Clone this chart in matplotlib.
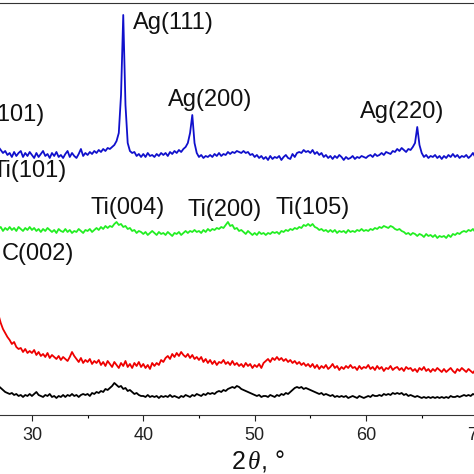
import numpy as np
import matplotlib
matplotlib.use("Agg")
import matplotlib.pyplot as plt
from matplotlib.ticker import MultipleLocator

plt.rcParams['font.family'] = ['Liberation Sans', 'DejaVu Sans']
plt.rcParams['mathtext.fontset'] = 'custom'
plt.rcParams['mathtext.it'] = 'Liberation Serif:italic'
plt.rcParams['mathtext.rm'] = 'Liberation Sans'

# sampling of 2-theta: start and step (degrees)
theta_start = 26.0
theta_step = 0.2

# intensities (a.u., offset curves), one row per degree, 5 samples each
blue = [
    [286, 281, 277, 273, 270], [268, 265, 262, 264, 260], [262, 258, 263, 259, 262],
    [264, 258, 262, 259, 263], [260, 257, 262, 258, 261], [264, 259, 261, 257, 262],
    [259, 263, 258, 260, 257], [261, 264, 258, 262, 259], [257, 261, 266, 259, 262],
    [260, 263, 261, 264, 262], [265, 263, 266, 264, 267], [266, 268, 270, 274, 282],
    [320, 400, 310, 272, 264], [262, 263, 259, 261, 258], [261, 258, 262, 259, 260],
    [258, 261, 259, 262, 260], [262, 259, 263, 261, 264], [262, 265, 263, 266, 268],
    [272, 282, 300, 272, 262], [258, 260, 257, 259, 258], [260, 258, 261, 259, 262],
    [259, 261, 260, 263, 261], [263, 262, 264, 263, 262], [264, 262, 263, 260, 261],
    [258, 260, 257, 259, 256], [258, 255, 259, 256, 258], [257, 259, 255, 258, 260],
    [257, 256, 261, 258, 262], [263, 262, 265, 263, 264], [262, 265, 261, 263, 260],
    [262, 258, 260, 257, 259], [256, 259, 257, 260, 258], [255, 258, 256, 257, 259],
    [256, 258, 257, 259, 258], [257, 259, 260, 258, 261], [259, 260, 262, 260, 263],
    [262, 261, 264, 263, 266], [264, 267, 265, 263, 266], [265, 268, 272, 288, 270],
    [262, 258, 260, 257, 259], [258, 260, 257, 259, 256], [259, 257, 260, 258, 261],
    [258, 260, 257, 259, 258], [260, 257, 259, 262, 258], [259, 257, 260, 258, 259],
]
green = [
    [188, 186, 189, 185, 187], [186, 188, 184, 187, 185], [188, 185, 187, 184, 188],
    [186, 184, 187, 185, 188], [185, 187, 184, 186, 183], [186, 184, 187, 185, 183],
    [185, 182, 186, 184, 183], [186, 183, 185, 182, 184], [183, 186, 184, 182, 185],
    [184, 186, 183, 185, 187], [185, 188, 186, 189, 187], [189, 188, 191, 193, 190],
    [191, 188, 189, 186, 187], [184, 185, 182, 184, 183], [181, 183, 180, 182, 184],
    [182, 180, 183, 181, 182], [180, 183, 181, 179, 182], [181, 183, 180, 182, 184],
    [182, 184, 183, 185, 183], [184, 182, 185, 183, 186], [184, 186, 185, 187, 186],
    [188, 187, 190, 193, 189], [190, 186, 187, 184, 185], [183, 181, 184, 182, 180],
    [182, 180, 183, 181, 182], [180, 182, 181, 183, 182], [183, 181, 184, 183, 185],
    [184, 186, 185, 187, 186], [188, 187, 190, 189, 191], [189, 191, 188, 187, 185],
    [186, 184, 185, 183, 185], [183, 185, 182, 184, 183], [184, 182, 185, 183, 184],
    [183, 185, 184, 186, 184], [185, 184, 186, 185, 187], [186, 188, 187, 189, 188],
    [187, 189, 188, 186, 185], [186, 184, 183, 181, 182], [180, 182, 181, 179, 181],
    [180, 178, 181, 179, 180], [178, 180, 177, 179, 178], [179, 177, 180, 178, 181],
    [180, 182, 181, 183, 184], [183, 185, 184, 186, 183], [184, 182, 185, 183, 184],
]
red = [
    [138, 130, 122, 115, 108], [100, 92, 86, 82, 78], [75, 71, 73, 68, 66],
    [67, 63, 66, 62, 64], [62, 65, 60, 63, 59], [61, 58, 62, 57, 60],
    [58, 56, 59, 55, 58], [56, 54, 58, 63, 59], [56, 53, 57, 52, 55],
    [53, 56, 51, 54, 52], [55, 50, 53, 49, 54], [51, 48, 53, 50, 47],
    [52, 49, 54, 48, 51], [47, 52, 49, 53, 48], [51, 47, 50, 46, 52],
    [49, 52, 50, 55, 53], [57, 59, 56, 61, 58], [62, 59, 63, 60, 58],
    [61, 57, 60, 56, 58], [55, 58, 53, 56, 52], [55, 51, 54, 50, 53],
    [52, 55, 51, 53, 50], [54, 50, 52, 49, 51], [48, 52, 49, 51, 47],
    [50, 48, 51, 47, 52], [54, 56, 53, 57, 55], [58, 55, 57, 54, 56],
    [53, 55, 52, 54, 51], [53, 50, 52, 49, 51], [48, 51, 47, 50, 46],
    [49, 47, 50, 46, 48], [51, 47, 49, 45, 48], [46, 49, 47, 50, 47],
    [48, 45, 49, 46, 48], [47, 50, 46, 48, 45], [49, 46, 48, 44, 47],
    [46, 49, 45, 47, 48], [45, 47, 44, 48, 46], [47, 44, 46, 43, 47],
    [45, 48, 44, 46, 43], [46, 44, 47, 45, 43], [46, 43, 45, 47, 44],
    [42, 46, 44, 47, 45], [43, 46, 44, 42, 45], [44, 42, 45, 43, 44],
]
black = [
    [40, 37, 35, 33, 31], [29, 27, 25, 23, 22], [21, 22, 20, 21, 19],
    [20, 18, 20, 19, 21], [19, 21, 23, 20, 19], [18, 20, 19, 21, 18],
    [19, 17, 19, 18, 20], [18, 20, 19, 21, 19], [20, 18, 20, 21, 20],
    [21, 19, 22, 21, 23], [22, 24, 23, 26, 25], [27, 29, 32, 30, 28],
    [29, 26, 27, 24, 25], [23, 21, 22, 20, 19], [19, 18, 20, 18, 19],
    [18, 19, 17, 19, 18], [19, 18, 20, 18, 19], [18, 17, 19, 18, 20],
    [19, 18, 20, 19, 21], [20, 19, 21, 20, 22], [21, 22, 21, 23, 24],
    [23, 25, 24, 26, 27], [28, 27, 29, 28, 26], [25, 24, 23, 22, 21],
    [20, 19, 20, 18, 19], [19, 18, 20, 19, 18], [20, 19, 21, 20, 22],
    [21, 23, 25, 27, 28], [27, 28, 26, 27, 26], [25, 24, 23, 22, 21],
    [22, 20, 21, 20, 19], [20, 18, 19, 18, 19], [18, 19, 17, 18, 19],
    [18, 17, 19, 18, 17], [18, 19, 18, 20, 19], [19, 20, 19, 21, 20],
    [21, 20, 22, 21, 22], [21, 22, 20, 21, 19], [20, 19, 18, 19, 18],
    [17, 18, 17, 18, 17], [18, 17, 18, 17, 18], [17, 18, 17, 19, 18],
    [18, 19, 18, 19, 20], [19, 20, 19, 21, 20], [20, 19, 21, 20, 20],
]

# peak labels: text, 2-theta, intensity, horizontal alignment
labels = ["Ag(111)", "Ag(200)", "Ag(220)", "Ti(101)", "Ti(101)",
          "Ti(004)", "Ti(200)", "Ti(105)", "C(002)"]
label_x = [39.07, 45.98, 63.2, 31.17, 33.14, 38.62, 47.28, 55.23, 27.28]
label_y = [392, 315, 303, 300, 244, 207, 205, 207, 161]
label_ha = ["left", "center", "center", "right", "right",
            "center", "center", "center", "left"]

series = [(black, "#000000"), (red, "#EE0000"), (green, "#22EE22"), (blue, "#1010CC")]

fig = plt.figure(figsize=(4.74, 4.74), dpi=100)
ax = fig.add_axes([-0.1676, 0.1245, 1.4097, 0.8692])

for vals, col in series:
    y = np.ravel(np.array(vals, dtype=float))
    x = theta_start + theta_step * np.arange(y.size)
    ax.plot(x, y, color=col, lw=1.3)

for t, lx, ly, ha in zip(labels, label_x, label_y, label_ha):
    ax.text(lx, ly, t, ha=ha, va="center", fontsize=17, color="#111111")

ax.set_xlim(20, 80)
ax.set_ylim(0, 412)
ax.set_yticks([])
ax.xaxis.set_major_locator(MultipleLocator(10))
ax.xaxis.set_minor_locator(MultipleLocator(5))
ax.tick_params(axis="x", which="major", direction="out", length=4.3, width=0.8,
               labelsize=13, pad=4, colors="#222222")
ax.tick_params(axis="x", which="minor", direction="out", length=2.4, width=0.8)
for s in ax.spines.values():
    s.set_linewidth(0.8)
    s.set_color("#333333")

ax.set_xlabel(r"2$\,\theta$, °", fontsize=18, color="#111111")
ax.xaxis.set_label_coords(0.505, -0.08)

fig.savefig("out.png", dpi=100)
